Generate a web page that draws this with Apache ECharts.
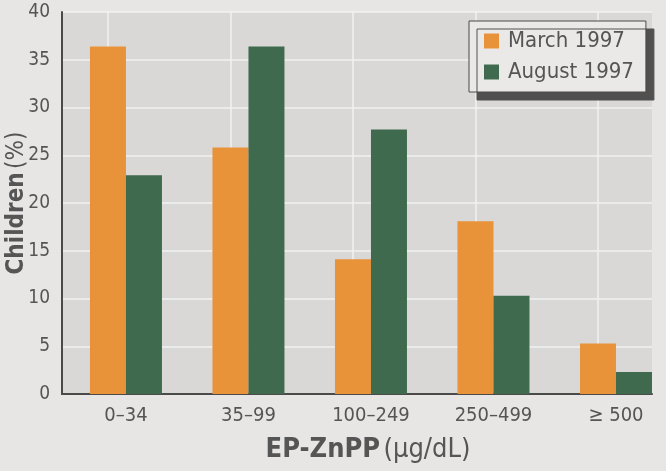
<!DOCTYPE html>
<html>
<head>
<meta charset="utf-8">
<script src="https://cdn.jsdelivr.net/npm/echarts@6/dist/echarts.min.js"></script>
<style>
html,body{margin:0;padding:0;background:#e8e6e5;}
#c{width:666px;height:471px;}
</style>
</head>
<body>
<div id="c"></div>
<script>
const categories = ['0\u201334', '35\u201399', '100\u2013249', '250\u2013499', '\u2265 500'];
const march1997 = [36.4, 25.8, 14.1, 18.1, 5.3];
const august1997 = [22.9, 36.4, 27.7, 10.3, 2.3];
const yTicks = [0, 5, 10, 15, 20, 25, 30, 35, 40];

const FONT = '"Liberation Sans Narrow", "DejaVu Sans Condensed", "Roboto Condensed", sans-serif';
const chart = echarts.init(document.getElementById('c'));
const idx = categories.map((c, i) => i);

chart.setOption({
  backgroundColor: '#e8e6e5',
  animation: false,
  textStyle: { fontFamily: FONT },
  grid: {
    left: 62, right: 14, top: 12, bottom: 77,
    containLabel: false,
    outerBoundsMode: 'none',
    show: true, backgroundColor: '#d9d8d7', borderWidth: 0
  },
  legend: {
    orient: 'vertical',
    left: 469, top: 21,
    data: ['March 1997', 'August 1997'],
    itemWidth: 15, itemHeight: 15, itemGap: 9,
    padding: [9, 12, 9, 15],
    backgroundColor: '#ebe9e8',
    borderColor: '#4a4a4a', borderWidth: 1,
    shadowColor: '#505050', shadowBlur: 0, shadowOffsetX: 8, shadowOffsetY: 8,
    icon: 'rect',
    textStyle: { fontFamily: FONT, fontSize: 22, color: '#555555', padding: [0, 0, 0, 4] }
  },
  xAxis: {
    type: 'value',
    min: -0.522, max: 4.294,
    name: '{b|EP-ZnPP} {n|(\u03bcg/dL)}',
    nameLocation: 'middle',
    nameGap: 42,
    nameMoveOverlap: false,
    nameTextStyle: {
      padding: [0, 0, 0, 22],
      rich: {
        b: { fontFamily: FONT, fontSize: 27, fontWeight: 'bold', color: '#555555' },
        n: { fontFamily: FONT, fontSize: 27, color: '#555555' }
      }
    },
    axisLine: { show: true, onZero: false, lineStyle: { color: '#4a4a4a', width: 2 } },
    axisTick: { show: false },
    splitLine: { show: false },
    axisLabel: {
      customValues: idx,
      formatter: v => categories[Math.round(v)],
      fontFamily: FONT, fontSize: 20, color: '#555555', margin: 12
    }
  },
  yAxis: {
    type: 'value',
    min: 0, max: 40, interval: 5,
    name: '{b|Children} {n|(%)}',
    nameLocation: 'middle',
    nameGap: 33,
    nameRotate: 90,
    nameMoveOverlap: false,
    nameTextStyle: {
      rich: {
        b: { fontFamily: FONT, fontSize: 24, fontWeight: 'bold', color: '#555555' },
        n: { fontFamily: FONT, fontSize: 24, color: '#555555' }
      }
    },
    axisLine: { show: true, onZero: false, lineStyle: { color: '#4a4a4a', width: 2 } },
    axisTick: { show: false },
    splitLine: { show: true, lineStyle: { color: '#f2f2f2', width: 1.5 } },
    axisLabel: {
      formatter: v => (yTicks.indexOf(v) >= 0 ? String(v) : ''),
      fontFamily: FONT, fontSize: 19, color: '#555555', margin: 12
    }
  },
  series: [
    {
      name: 'March 1997', type: 'bar',
      data: march1997.map((v, i) => [idx[i], v]),
      barWidth: 36, barGap: '0%',
      itemStyle: { color: '#e8923a' },
      markLine: {
        silent: true, symbol: 'none', z: 1,
        label: { show: false },
        lineStyle: { color: '#f2f2f2', width: 1.5, type: 'solid' },
        data: idx.map(i => ({ xAxis: i }))
      }
    },
    {
      name: 'August 1997', type: 'bar',
      data: august1997.map((v, i) => [idx[i], v]),
      barWidth: 36, barGap: '0%',
      itemStyle: { color: '#3f6a4d' }
    }
  ]
});
</script>
</body>
</html>
